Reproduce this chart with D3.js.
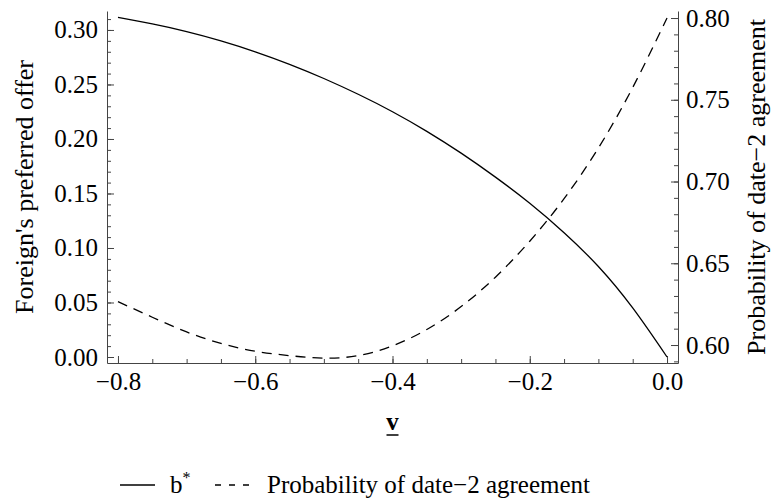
<!DOCTYPE html>
<html>
<head>
<meta charset="utf-8">
<script src="https://cdn.jsdelivr.net/npm/d3@7"></script>
<style>
  svg text { font-family: "Liberation Serif", Tinos, "Times New Roman", serif !important; }
</style>
</head>
<body style="margin:0">
<script>
// values
const vValues = [-0.8, -0.75, -0.7, -0.65, -0.6, -0.55, -0.5, -0.45, -0.4, -0.35, -0.3, -0.25, -0.2, -0.15, -0.1, -0.05, 0.0];
const bStar = [0.3115, 0.3055, 0.2985, 0.290, 0.280, 0.2685, 0.2555, 0.241, 0.225, 0.207, 0.187, 0.165, 0.141, 0.114, 0.083, 0.045, 0.0];
const probAgreement = [0.6265, 0.617, 0.608, 0.601, 0.5962, 0.5935, 0.592, 0.5935, 0.5995, 0.6095, 0.6235, 0.6415, 0.6635, 0.6895, 0.7205, 0.7575, 0.800];

const xTicks = [-0.8, -0.6, -0.4, -0.2, 0.0];
const leftTicks = [0.00, 0.05, 0.10, 0.15, 0.20, 0.25, 0.30];
const rightTicks = [0.60, 0.65, 0.70, 0.75, 0.80];

const width = 774;
const height = 504;
const marginLeft = 107;
const marginRight = 96;
const marginTop = 11;
const marginBottom = 141;

const x = d3.scaleLinear()
    .domain([-0.816, 0.016])
    .range([marginLeft, width - marginRight]);

const yLeft = d3.scaleLinear()
    .domain([-0.0055, 0.3174])
    .range([height - marginBottom, marginTop]);

const yRight = d3.scaleLinear()
    .domain([0.589, 0.8043])
    .range([height - marginBottom, marginTop]);

const svg = d3.create("svg")
    .attr("width", width)
    .attr("height", height);

const axisColor = "#444";

// minor ticks
const xMinor = d3.range(-0.8, 0.001, 0.05).map(d => +d.toFixed(2));
const leftMinor = d3.range(0, 0.3101, 0.01).map(d => +d.toFixed(2));
const rightMinor = d3.range(0.59, 0.8001, 0.01).map(d => +d.toFixed(2));

function styleAxis(g) {
  g.attr("font-family", null).attr("font-size", null);
  g.select(".domain").attr("stroke", axisColor);
  g.selectAll(".tick line").attr("stroke", axisColor);
  g.selectAll(".tick text").attr("fill", "#000").attr("font-size", 25);
}

// bottom axis
svg.append("g")
    .attr("transform", `translate(0,${height - marginBottom})`)
    .call(d3.axisBottom(x).tickValues(xMinor).tickSize(-4).tickSizeOuter(0).tickFormat(""))
    .call(styleAxis);
svg.append("g")
    .attr("transform", `translate(0,${height - marginBottom})`)
    .call(d3.axisBottom(x).tickValues(xTicks).tickSize(-7).tickSizeOuter(0).tickPadding(9).tickFormat(d3.format(".1f")))
    .call(styleAxis)
    .call(g => g.select(".domain").remove());

// left axis
svg.append("g")
    .attr("transform", `translate(${marginLeft},0)`)
    .call(d3.axisLeft(yLeft).tickValues(leftMinor).tickSize(-4).tickSizeOuter(0).tickFormat(""))
    .call(styleAxis);
svg.append("g")
    .attr("transform", `translate(${marginLeft},0)`)
    .call(d3.axisLeft(yLeft).tickValues(leftTicks).tickSize(-7).tickSizeOuter(0).tickPadding(9).tickFormat(d3.format(".2f")))
    .call(styleAxis)
    .call(g => g.select(".domain").remove());

// right axis
svg.append("g")
    .attr("transform", `translate(${width - marginRight},0)`)
    .call(d3.axisRight(yRight).tickValues(rightMinor).tickSize(-4).tickSizeOuter(0).tickFormat(""))
    .call(styleAxis);
svg.append("g")
    .attr("transform", `translate(${width - marginRight},0)`)
    .call(d3.axisRight(yRight).tickValues(rightTicks).tickSize(-7).tickSizeOuter(0).tickPadding(8).tickFormat(d3.format(".2f")))
    .call(styleAxis)
    .call(g => g.select(".domain").remove());

// curves
const bLine = d3.line()
    .x((d, i) => x(vValues[i]))
    .y(d => yLeft(d))
    .curve(d3.curveNatural);

const pLine = d3.line()
    .x((d, i) => x(vValues[i]))
    .y(d => yRight(d))
    .curve(d3.curveNatural);

svg.append("path")
    .attr("fill", "none")
    .attr("stroke", "#000")
    .attr("stroke-width", 1.3)
    .attr("d", bLine(bStar));

svg.append("path")
    .attr("fill", "none")
    .attr("stroke", "#000")
    .attr("stroke-width", 1.3)
    .attr("stroke-dasharray", "10,7")
    .attr("d", pLine(probAgreement));

// axis titles
const midY = (marginTop + height - marginBottom) / 2;
const midX = (marginLeft + width - marginRight) / 2;

svg.append("text")
    .attr("transform", `translate(33,${midY}) rotate(-90)`)
    .attr("text-anchor", "middle")
    .attr("font-size", 26)
    .text("Foreign's preferred offer");

svg.append("text")
    .attr("transform", `translate(765,${midY}) rotate(-90)`)
    .attr("text-anchor", "middle")
    .attr("font-size", 26)
    .text("Probability of date\u22122 agreement");

svg.append("text")
    .attr("x", midX)
    .attr("y", 430)
    .attr("text-anchor", "middle")
    .attr("font-size", 25)
    .attr("font-weight", "bold")
    .text("v");
svg.append("line")
    .attr("x1", midX - 6)
    .attr("x2", midX + 6)
    .attr("y1", 435).attr("y2", 435)
    .attr("stroke", "#000")
    .attr("stroke-width", 1.5);

// legend
legendLine(120, 155, null);
const bText = svg.append("text")
    .attr("x", 170).attr("y", 493)
    .attr("font-size", 25);
bText.append("tspan").text("b");
bText.append("tspan").attr("dy", -10).attr("font-size", 16).text("*");

legendLine(215, 252, "6,8");
svg.append("text")
    .attr("x", 267).attr("y", 493)
    .attr("font-size", 25)
    .text("Probability of date\u22122 agreement");

function legendLine(x1, x2, dash) {
  svg.append("line")
      .attr("x1", x1).attr("x2", x2).attr("y1", 485).attr("y2", 485)
      .attr("stroke", "#000").attr("stroke-width", 1.3)
      .attr("stroke-dasharray", dash);
}

svg.selectAll("text").attr("font-family", "Liberation Serif");

document.body.append(svg.node());
</script>
</body>
</html>
